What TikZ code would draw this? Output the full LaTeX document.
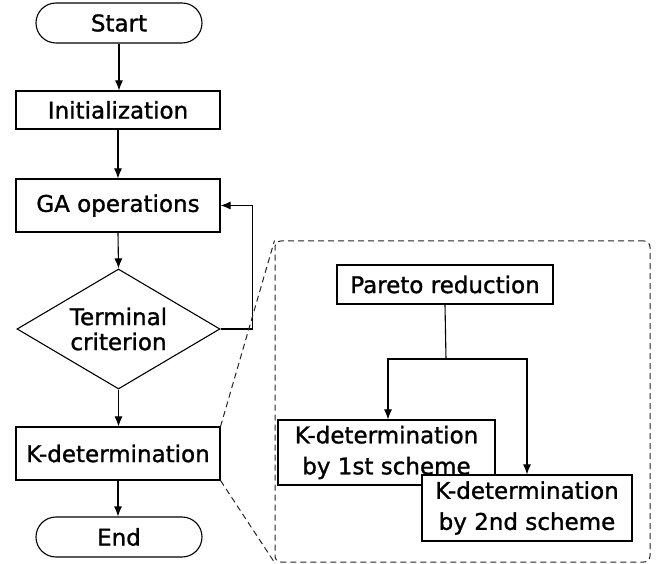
\documentclass[tikz,border=0pt]{standalone}
\usepackage{fontspec}
\setmainfont[FakeBold=1.2]{DejaVu Sans}
\usetikzlibrary{arrows.meta,shapes.geometric}
\begin{document}
\begin{tikzpicture}[x=1pt,y=-1pt,
  every node/.style={font=\fontsize{23}{31}\selectfont, inner sep=0pt, line width=1.1pt},
  term/.style={draw, rounded corners=20pt, minimum width=166pt, minimum height=40pt},
  box/.style={draw, fill=white, minimum width=204pt, align=center},
  dec/.style={draw, diamond, aspect=1.69, minimum width=203pt, minimum height=120pt, align=center, font=\fontsize{23}{25}\selectfont},
  conn/.style={line width=1.1pt, -{Latex[length=10pt,width=8pt]}},
  plain/.style={line width=1.1pt},
  zoomline/.style={line width=1pt, dash pattern=on 6pt off 4pt, draw=black!85}
]
\useasboundingbox[fill=white] (0,0) rectangle (665,564);

% dashed zoom frame
\node[draw, zoomline, rounded corners=6pt, minimum width=375pt, minimum height=321pt] (frame) at (462.5,401.5) {};

% main flow
\node[term] (start) at (119,23) {Start};
\node[box, minimum height=38pt] (init) at (118,110) {Initialization};
\node[box, minimum height=53pt] (ga) at (118,205.5) {GA operations};
\node[dec] (crit) at (118.5,329) {Terminal\\criterion};
\node[box, minimum height=53pt] (kdet) at (118,453.5) {K-determination};
\node[term] (end) at (119,537) {End};

\draw[conn] (start.south) -- (start.south |- init.north);
\draw[conn] (init.south) -- (init.south |- ga.north);
\draw[conn] (ga.south) -- (crit.north);
\draw[conn] (crit.south) -- (crit.south |- kdet.north);
\draw[conn] (kdet.south) -- (kdet.south |- end.north);
\draw[conn] (crit.east) -- ++(32,0) |- (ga.east);

% zoom lines
\draw[zoomline] (kdet.north east) -- (frame.north west);
\draw[zoomline] (kdet.south east) -- (frame.south west);

% detail
\node[box, minimum width=216pt, minimum height=39pt] (par) at (445,284.5) {Pareto reduction};
\node[box, minimum width=217pt, minimum height=65pt] (b1) at (386.5,452.5) {K-determination\\ by 1st scheme};
\node[box, minimum width=210pt, minimum height=66pt] (b2) at (527,508) {K-determination\\ by 2nd scheme};

\coordinate (split) at (446,359);
\draw[plain] (par.south) -- (split);
\draw[conn] (split) -| (388,0 |- b1.north);
\draw[conn] (split) -| (b2.north);
\end{tikzpicture}
\end{document}
